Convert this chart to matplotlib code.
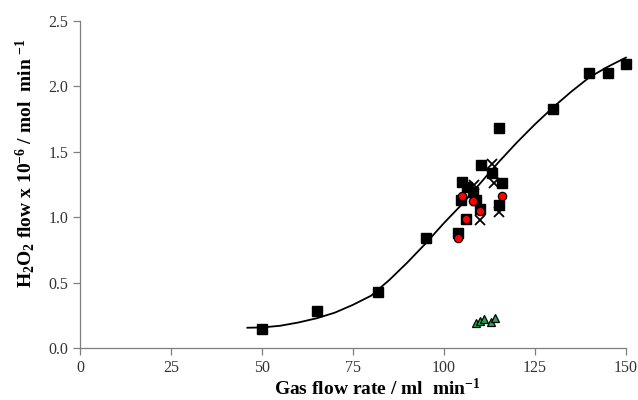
import matplotlib
matplotlib.use('Agg')
import matplotlib.pyplot as plt

# series
sq_x = [50, 65, 82, 95, 104, 104.6, 105, 106, 106.3, 108, 108.8, 110, 110.1, 113.1, 115, 115, 116, 130, 140, 145, 150]
sq_y = [0.145, 0.28, 0.43, 0.84, 0.877, 1.13, 1.27, 0.99, 1.23, 1.195, 1.13, 1.06, 1.40, 1.34, 1.68, 1.09, 1.26, 1.825, 2.10, 2.10, 2.17]

circ_x = [104, 105, 106, 108, 110, 116]
circ_y = [0.84, 1.16, 0.99, 1.126, 1.05, 1.16]

cross_x = [108.2, 110, 113.1, 113.7, 115.2]
cross_y = [1.25, 0.98, 1.41, 1.26, 1.04]

tri_x = [108.8, 110, 111, 113, 114]
tri_y = [0.19, 0.21, 0.22, 0.20, 0.23]

# trend curve
fit_x = [46, 50, 55, 60, 65, 70, 75, 80, 85, 90, 95, 100, 105, 110, 115, 120, 125, 130, 135, 140, 145, 150]
fit_y = [0.155, 0.157, 0.17, 0.195, 0.227, 0.27, 0.33, 0.40, 0.52, 0.655, 0.80, 0.955, 1.10, 1.26, 1.42, 1.57, 1.71, 1.84, 1.96, 2.07, 2.15, 2.22]

plt.rcParams['font.family'] = ['Liberation Serif', 'DejaVu Serif']
plt.rcParams['mathtext.fontset'] = 'custom'
plt.rcParams['mathtext.rm'] = 'Liberation Serif'
plt.rcParams['mathtext.bf'] = 'Liberation Serif:bold'
plt.rcParams['mathtext.default'] = 'bf'

fig = plt.figure(figsize=(6.38, 4.0), dpi=100)
ax = fig.add_axes([0.1254, 0.13, 0.8556, 0.8175])

ax.plot(fit_x, fit_y, color='black', lw=1.3, zorder=2, clip_on=False)
ax.plot(cross_x, cross_y, 'x', color='black', ms=6.5, mew=1.3, zorder=3)
ax.plot(sq_x, sq_y, 's', color='black', ms=6.5, zorder=4, clip_on=False)
ax.plot(circ_x, circ_y, 'o', mfc='#ff0000', mec='black', ms=6, mew=0.9, zorder=5)
ax.plot(tri_x, tri_y, '^', mfc='#1fa84f', mec='black', ms=6, mew=0.9, zorder=5)

ax.set_xlim(0, 150)
ax.set_ylim(0, 2.5)
ax.set_xticks([0, 25, 50, 75, 100, 125, 150])
ax.set_yticks([0, 0.5, 1.0, 1.5, 2.0, 2.5])
ax.set_yticklabels(['0.0', '0.5', '1.0', '1.5', '2.0', '2.5'])

for s in ['top', 'right']:
    ax.spines[s].set_visible(False)
for s in ['left', 'bottom']:
    ax.spines[s].set_color('#7f7f7f')
    ax.spines[s].set_linewidth(0.9)
ax.tick_params(direction='out', length=5, width=0.9, color='#7f7f7f', labelsize=11.5, labelcolor='#333333')

ax.set_xlabel('Gas flow rate / ml  min$^{-1}$', fontsize=14, fontweight='bold')
ax.set_ylabel('H$_2$O$_2$ flow x 10$^{-6}$ / mol  min $^{-1}$', fontsize=14, fontweight='bold')
ax.xaxis.set_label_coords(0.544, -0.09)
ax.yaxis.set_label_coords(-0.078, 0.566)

fig.savefig('out.png', dpi=100)
